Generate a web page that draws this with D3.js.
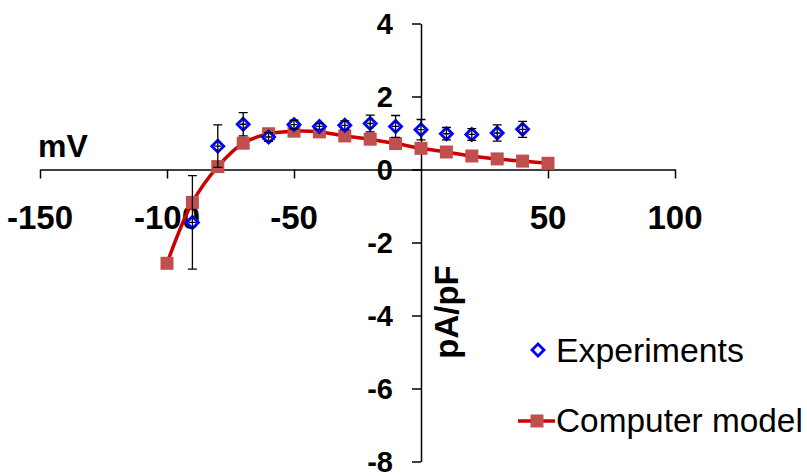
<!DOCTYPE html>
<html>
<head>
<meta charset="utf-8">
<script src="https://cdn.jsdelivr.net/npm/d3@7"></script>
<style>
  html, body { margin: 0; padding: 0; background: #ffffff; }
  svg { display: block; font-family: "Liberation Sans", Arial, sans-serif; }
</style>
</head>
<body>
<div id="chart"></div>
<script>
// Data
const modelVoltages = [-100, -90, -80, -70, -60, -50, -40, -30, -20, -10, 0, 10, 20, 30, 40, 50];
const modelCurrents = [-2.57, -0.9, 0.08, 0.72, 0.98, 1.05, 1.03, 0.92, 0.83, 0.71, 0.58, 0.48, 0.37, 0.29, 0.23, 0.17];

const expVoltages = [-90, -80, -70, -60, -50, -40, -30, -20, -10, 0, 10, 20, 30, 40];
const expCurrents = [-1.45, 0.64, 1.24, 0.89, 1.23, 1.18, 1.21, 1.26, 1.18, 1.09, 0.98, 0.96, 1.0, 1.1];
const expErrors = [1.28, 0.58, 0.32, 0.12, 0.12, 0.08, 0.12, 0.23, 0.3, 0.28, 0.17, 0.16, 0.22, 0.22];

const xTicks = [-150, -100, -50, 0, 50, 100];
const yTicks = [4, 2, 0, -2, -4, -6, -8];
const seriesNames = ['Experiments', 'Computer model'];

const W = 807, H = 476;

const svg = d3.select('#chart')
    .append('svg')
    .attr('width', W)
    .attr('height', H);

// Scales: axes cross at (0,0)
const x = d3.scaleLinear().domain([-150, 100]).range([40, 675]);
const y = d3.scaleLinear().domain([-8, 4]).range([461.5, 23.5]);

const axisColor = '#000';

// X axis (through y = 0), ticks pointing down
const xAxisG = svg.append('g')
    .attr('transform', `translate(0,${y(0)})`)
    .call(d3.axisBottom(x).tickValues(xTicks).tickSize(9).tickSizeOuter(0).tickFormat(''));
xAxisG.select('.domain').attr('stroke', axisColor).attr('stroke-width', 1.5);
xAxisG.selectAll('.tick line').attr('stroke', axisColor).attr('stroke-width', 1.5);
// the 0 tick overlaps the y axis
xAxisG.selectAll('.tick').filter(d => d === 0).remove();

// Y axis (through x = 0), ticks pointing left
const yAxisG = svg.append('g')
    .attr('transform', `translate(${x(0)},0)`)
    .call(d3.axisLeft(y).tickValues(yTicks).tickSize(9).tickSizeOuter(0).tickFormat(''));
yAxisG.select('.domain').attr('stroke', axisColor).attr('stroke-width', 1.5);
yAxisG.selectAll('.tick line').attr('stroke', axisColor).attr('stroke-width', 1.5);

// X tick labels (0 omitted, it sits with the y labels)
svg.append('g')
    .selectAll('text')
    .data(xTicks.filter(d => d !== 0))
    .join('text')
    .attr('x', d => x(d))
    .attr('y', 229)
    .attr('text-anchor', 'middle')
    .style('font-size', '33px')
    .style('font-weight', 700)
    .text(d => d);

// Y tick labels
svg.append('g')
    .selectAll('text')
    .data(yTicks)
    .join('text')
    .attr('x', 393)
    .attr('y', d => y(d) + 10)
    .attr('text-anchor', 'end')
    .style('font-size', '29px')
    .style('font-weight', 700)
    .text(d => d);

// Axis titles
svg.append('text')
    .attr('x', 38)
    .attr('y', 157)
    .style('font-size', '32px')
    .style('font-weight', 700)
    .text('mV');

svg.append('text')
    .attr('transform', 'translate(458,312) rotate(-90)')
    .attr('text-anchor', 'middle')
    .style('font-size', '33px')
    .style('font-weight', 700)
    .text('pA/pF');

// Computer model: smoothed red line with squares
const modelPts = modelVoltages.map((v, i) => ({ v, c: modelCurrents[i] }));
const line = d3.line()
    .x(d => x(d.v))
    .y(d => y(d.c))
    .curve(d3.curveCatmullRom.alpha(0.5));

svg.append('path')
    .datum(modelPts)
    .attr('d', line)
    .attr('fill', 'none')
    .attr('stroke', '#cc0000')
    .attr('stroke-width', 3.5);

const sq = 13;
svg.append('g')
    .selectAll('rect')
    .data(modelPts)
    .join('rect')
    .attr('x', d => x(d.v) - sq / 2)
    .attr('y', d => y(d.c) - sq / 2)
    .attr('width', sq)
    .attr('height', sq)
    .attr('fill', '#c0504d');

// Experiments: open blue diamonds with error bars
const expPts = expVoltages.map((v, i) => ({ v, c: expCurrents[i], e: expErrors[i] }));
const dia = 6;
const diamondPath = `M0,${-dia}L${dia},0L0,${dia}L${-dia},0Z`;

const expG = svg.append('g')
    .selectAll('g')
    .data(expPts)
    .join('g')
    .attr('transform', d => `translate(${x(d.v)},${y(d.c)})`);

expG.append('path')
    .attr('d', diamondPath)
    .attr('fill', '#ffffff')
    .attr('stroke', '#0000ff')
    .attr('stroke-width', 2.8);

const cap = 4.5;
expG.append('path')
    .attr('d', d => {
        const up = y(d.c + d.e) - y(d.c);
        const dn = y(d.c - d.e) - y(d.c);
        return `M0,${up}V${dn}M${-cap},${up}H${cap}M${-cap},${dn}H${cap}M-3.5,0H3.5`;
    })
    .attr('fill', 'none')
    .attr('stroke', '#000')
    .attr('stroke-width', 1.3);

// Legend
const legend = svg.append('g');
legend.append('path')
    .attr('transform', 'translate(538,350)')
    .attr('d', diamondPath)
    .attr('fill', '#ffffff')
    .attr('stroke', '#0000ff')
    .attr('stroke-width', 2.8);
legend.append('text')
    .attr('x', 556)
    .attr('y', 362)
    .style('font-size', '33.8px')
    .text(seriesNames[0]);

legend.append('line')
    .attr('x1', 518).attr('x2', 555)
    .attr('y1', 421).attr('y2', 421)
    .attr('stroke', '#cc0000')
    .attr('stroke-width', 3.5);
legend.append('rect')
    .attr('x', 537 - sq / 2)
    .attr('y', 421 - sq / 2)
    .attr('width', sq)
    .attr('height', sq)
    .attr('fill', '#c0504d');
legend.append('text')
    .attr('x', 556)
    .attr('y', 432)
    .style('font-size', '33.4px')
    .text(seriesNames[1]);
</script>
</body>
</html>
